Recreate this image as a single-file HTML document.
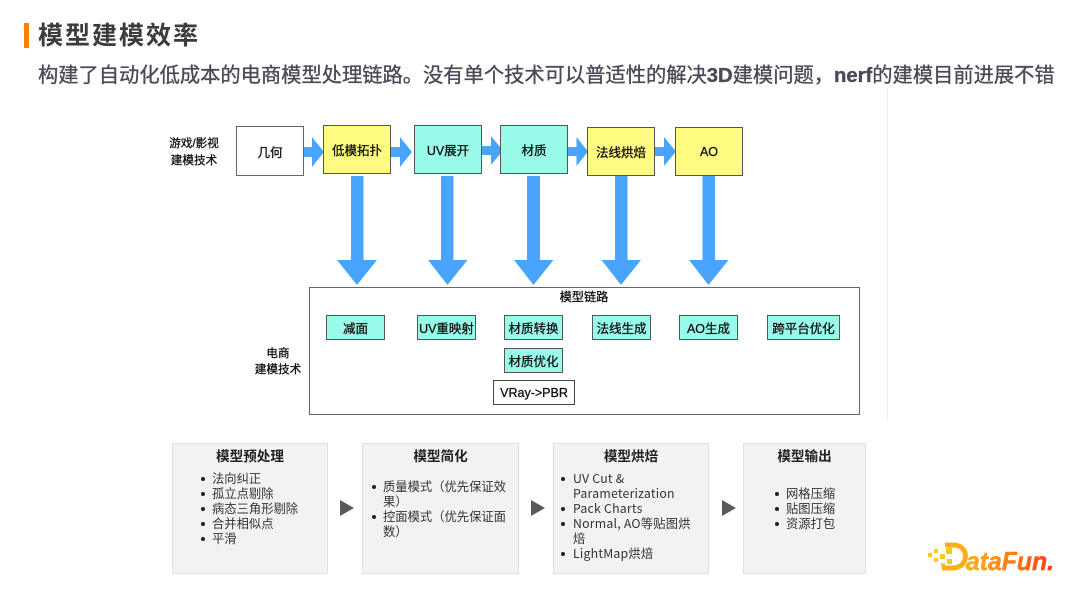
<!DOCTYPE html>
<html lang="zh"><head><meta charset="utf-8"><title>模型建模效率</title>
<style>
html,body{margin:0;padding:0;background:#fff}
#p{position:relative;width:1080px;height:608px;overflow:hidden;background:#fff;font-family:"Liberation Sans","Noto Sans CJK SC",sans-serif;color:#111;text-spacing-trim:space-all}
#p div{position:absolute;box-sizing:border-box;white-space:nowrap}
.b{border:1px solid #555;display:flex;align-items:center;justify-content:center;font-size:12.5px;font-weight:400;-webkit-text-stroke:.3px #111}
.y{background:#fffb80}.c{background:#99fbe9}.w{background:#fff}
.s{height:25px;top:315px}
.t{text-align:center;font-size:11.6px;line-height:16px;font-weight:400;-webkit-text-stroke:.3px #111}
.panel{background:#f2f2f2;border:1px solid #e0e0e0;top:443px;height:131px}
.h{font-family:"Noto Sans CJK SC",sans-serif;font-size:13.6px;font-weight:700;line-height:18px;text-align:center;top:446px;color:#222}
.l{font-family:"Noto Sans CJK SC",sans-serif;font-size:12.3px;line-height:15px;color:#333}
.e{letter-spacing:.22px}
.d{width:4px;height:4px;border-radius:50%;background:#222}
</style></head><body><div id="p">
<div style="left:24px;top:23px;width:5px;height:25px;background:#ff8000"></div>
<div style="left:38px;top:19px;font-size:25px;line-height:35px;font-weight:700;letter-spacing:2px;color:#3c3c3c">模型建模效率</div>
<div style="left:38px;top:62px;font-size:20.28px;line-height:29px;font-weight:400;color:#4a4a58;-webkit-text-stroke:.35px #4a4a58">构建了自动化低成本的电商模型处理链路。没有单个技术可以普适性的解决<b>3D</b>建模问题，<b>nerf</b>的建模目前进展不错</div>
<div style="left:887px;top:88px;width:1px;height:333px;background:#eeeeee"></div>

<svg style="position:absolute;left:0;top:0" width="1080" height="608" fill="#49a4fd">
<polygon points="303,147 312,147 312,137 324,152 312,167 312,157 303,157"/>
<polygon points="391,147 400,147 400,137 412,152 400,167 400,157 391,157"/>
<polygon points="482,146 491,146 491,136 503,150.500 491,165 491,155 482,155"/>
<polygon points="567,147 576.500,147 576.500,137 588,151.500 576.500,166 576.500,156 567,156"/>
<polygon points="655,147 664,147 664,137 676,151.500 664,166 664,156 655,156"/>
<polygon points="351,176 363.500,176 363.500,260 377,260 357,285 337,260 351,260"/>
<polygon points="441,176 453.500,176 453.500,260 467.500,260 447.500,285 428,260 441,260"/>
<polygon points="527,176 540,176 540,260 553.500,260 533.500,285 514,260 527,260"/>
<polygon points="615,176 627.500,176 627.500,260 641,260 621,285 601.500,260 615,260"/>
<polygon points="702.500,176 715,176 715,260 728.500,260 708.500,285 689,260 702.500,260"/>
<polygon fill="#595959" points="340,500 354,508 340,516"/>
<polygon fill="#595959" points="531,500 545,508 531,516"/>
<polygon fill="#595959" points="722,500 736,508 722,516"/>
</svg>

<div class="t" style="left:154px;top:136px;width:80px">游戏/影视</div>
<div class="t" style="left:154px;top:153px;width:80px">建模技术</div>
<div class="b w" style="left:236px;top:126px;width:68px;height:50px;border-color:#666">几何</div>
<div class="b y" style="left:323px;top:125px;width:68px;height:49px">低模拓扑</div>
<div class="b c" style="left:414px;top:125px;width:68px;height:49px">UV展开</div>
<div class="b c" style="left:500px;top:125px;width:68px;height:49px">材质</div>
<div class="b y" style="left:587px;top:127px;width:68px;height:49px">法线烘焙</div>
<div class="b y" style="left:675px;top:127px;width:68px;height:49px">AO</div>

<div style="left:309px;top:287px;width:551px;height:128px;border:1px solid #666;background:#fff"></div>
<div class="t" style="left:544px;top:289px;width:80px;font-size:12.2px">模型链路</div>
<div class="t" style="left:238px;top:346px;width:80px">电商</div>
<div class="t" style="left:238px;top:362px;width:80px">建模技术</div>
<div class="b c s" style="left:326px;width:59px">减面</div>
<div class="b c s" style="left:417px;width:59px">UV重映射</div>
<div class="b c s" style="left:504px;width:59px">材质转换</div>
<div class="b c s" style="left:592px;width:59px">法线生成</div>
<div class="b c s" style="left:679px;width:59px">AO生成</div>
<div class="b c s" style="left:767px;width:73px">跨平台优化</div>
<div class="b c s" style="left:504px;top:348px;width:59px">材质优化</div>
<div class="b w" style="left:493px;top:380px;width:82px;height:25px;border-color:#444">VRay-&gt;PBR</div>

<div class="panel" style="left:172px;width:156px"></div>
<div class="panel" style="left:362px;width:157px"></div>
<div class="panel" style="left:553px;width:156px"></div>
<div class="panel" style="left:743px;width:123px"></div>
<div class="h" style="left:172px;width:156px">模型预处理</div>
<div class="h" style="left:362px;width:157px">模型简化</div>
<div class="h" style="left:553px;width:156px">模型烘焙</div>
<div class="h" style="left:743px;width:123px">模型输出</div>

<div class="d" style="left:200.500px;top:476.500px"></div><div class="l" style="left:212px;top:471px">法向纠正</div>
<div class="d" style="left:200.500px;top:491.500px"></div><div class="l" style="left:212px;top:486px">孤立点剔除</div>
<div class="d" style="left:200.500px;top:506.500px"></div><div class="l" style="left:212px;top:501px">病态三角形剔除</div>
<div class="d" style="left:200.500px;top:521.500px"></div><div class="l" style="left:212px;top:516px">合并相似点</div>
<div class="d" style="left:200.500px;top:536.500px"></div><div class="l" style="left:212px;top:531px">平滑</div>

<div class="d" style="left:371.500px;top:484.500px"></div><div class="l" style="left:383px;top:479px">质量模式（优先保证效</div>
<div class="l" style="left:383px;top:494px">果）</div>
<div class="d" style="left:371.500px;top:514.500px"></div><div class="l" style="left:383px;top:509px">控面模式（优先保证面</div>
<div class="l" style="left:383px;top:524px">数）</div>

<div class="d" style="left:561px;top:476.500px"></div><div class="l e" style="left:573px;top:471px">UV Cut &amp;</div>
<div class="l e" style="left:573px;top:486px">Parameterization</div>
<div class="d" style="left:561px;top:506.500px"></div><div class="l e" style="left:573px;top:501px">Pack Charts</div>
<div class="d" style="left:561px;top:521.500px"></div><div class="l e" style="left:573px;top:516px">Normal, AO等贴图烘</div>
<div class="l" style="left:573px;top:531px">焙</div>
<div class="d" style="left:561px;top:551.500px"></div><div class="l e" style="left:573px;top:546px">LightMap烘焙</div>

<div class="d" style="left:774.500px;top:491.500px"></div><div class="l" style="left:786px;top:486px">网格压缩</div>
<div class="d" style="left:774.500px;top:506.500px"></div><div class="l" style="left:786px;top:501px">贴图压缩</div>
<div class="d" style="left:774.500px;top:521.500px"></div><div class="l" style="left:786px;top:516px">资源打包</div>

<svg style="position:absolute;left:920px;top:535px" width="150" height="45">
<defs><linearGradient id="g" x1="0" y1="0" x2="1" y2="0"><stop offset="0" stop-color="#ffb01e"/><stop offset=".5" stop-color="#ff8014"/><stop offset="1" stop-color="#ff3c10"/></linearGradient></defs>
<g fill="#ffc81e">
<rect x="8" y="18" width="4" height="4"/><rect x="14" y="14" width="4" height="4"/><rect x="14" y="23" width="4" height="4"/>
<rect x="20" y="19" width="5" height="5"/><rect x="21" y="28" width="4" height="4"/><rect x="26" y="13" width="6" height="6"/><rect x="27" y="24" width="5" height="5"/>
</g>
<path d="M25 10H33C42 10 47 16 45 24C44 30 39 33 31 33H22" fill="none" stroke="#ffae18" stroke-width="5"/>
<text x="46" y="35" font-family="Liberation Sans,sans-serif" font-size="26" font-weight="700" font-style="italic" textLength="88" lengthAdjust="spacingAndGlyphs" fill="url(#g)" stroke="url(#g)" stroke-width=".5">ataFun.</text>
</svg>
</div></body></html>
